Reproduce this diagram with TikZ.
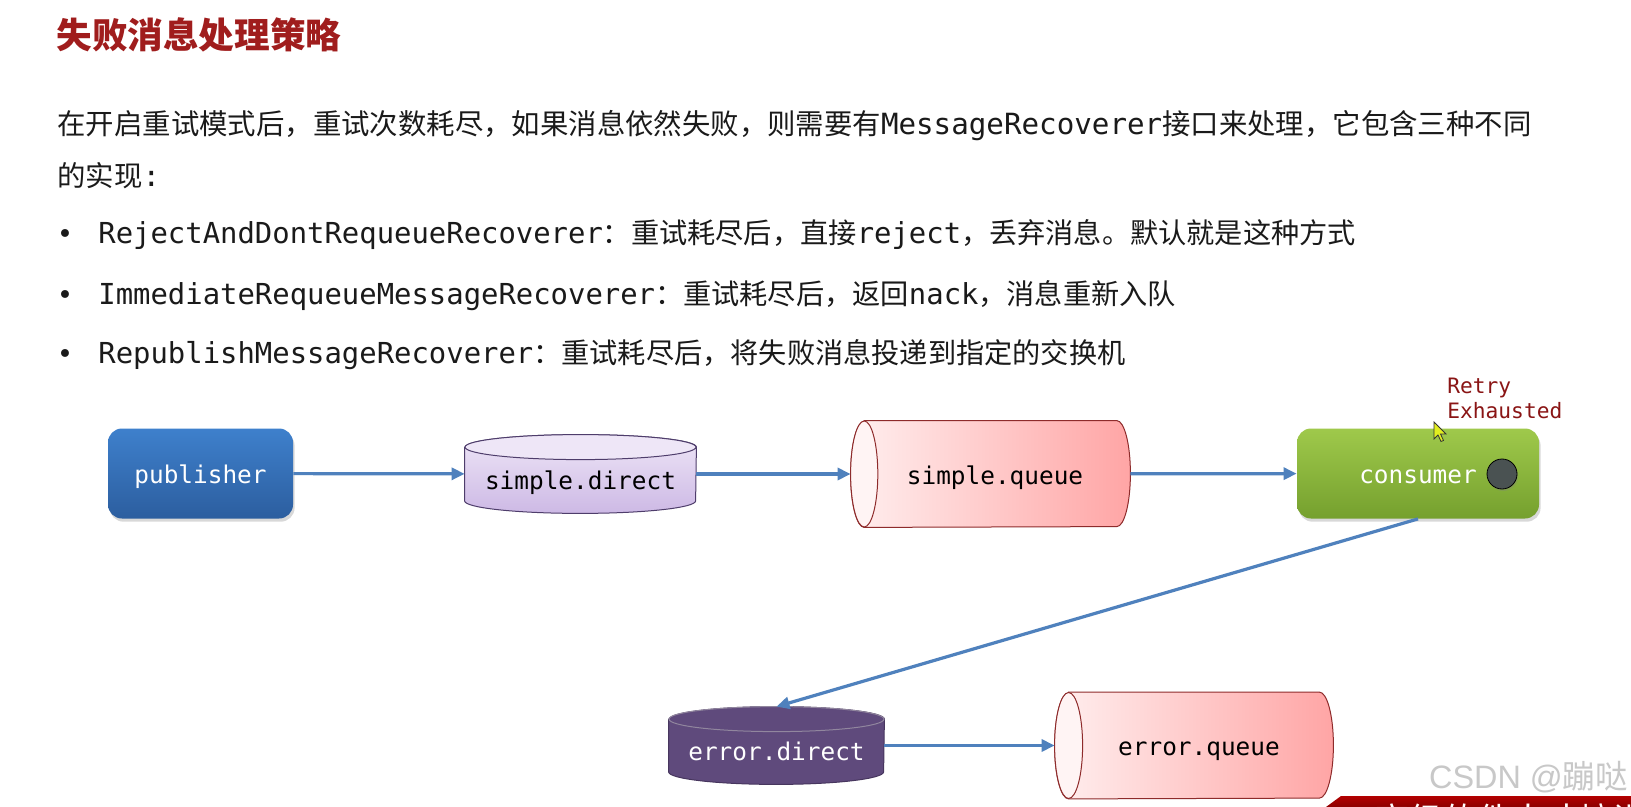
\documentclass[tikz,border=0pt]{standalone}
\usepackage{fontspec}
\setmainfont{Noto Sans CJK SC}
\setmonofont{DejaVu Sans Mono}
\newfontfamily\markfont{Liberation Sans}
\newfontfamily\dotfont{DejaVu Sans}
\usetikzlibrary{arrows.meta,shadows,backgrounds}

\definecolor{titlered}{HTML}{A01D1D}
\definecolor{retryred}{HTML}{8A1515}
\definecolor{bodytext}{HTML}{1A1A1A}
\definecolor{flowblue}{HTML}{4F81BD}
\definecolor{pubtop}{HTML}{3E80CC}
\definecolor{pubbot}{HTML}{2C5E9F}
\definecolor{constop}{HTML}{9FC94B}
\definecolor{consbot}{HTML}{75A02E}
\definecolor{dotgray}{HTML}{4A5252}
\definecolor{dirtop}{HTML}{EEE6F7}
\definecolor{dirbot}{HTML}{CDB9E5}
\definecolor{dirline}{HTML}{4E3D6B}
\definecolor{quel}{HTML}{FFEFEF}
\definecolor{quer}{HTML}{FFA5A5}
\definecolor{queface}{HTML}{FFF4F4}
\definecolor{queline}{HTML}{8E2B2B}
\definecolor{errfill}{HTML}{5F4A7C}
\definecolor{errline}{HTML}{47365E}
\definecolor{markgray}{HTML}{C8C8C8}
\definecolor{bannertop}{HTML}{B30000}
\definecolor{bannerbot}{HTML}{8C0000}
\definecolor{cursoryellow}{HTML}{E2EE20}

\newcommand\code[2][14.6pt]{{\ttfamily\fontsize{#1}{16pt}\selectfont #2}}

\begin{document}
\begin{tikzpicture}[x=0.5pt, y=0.5pt,
    flow/.style={draw=flowblue, line width=1.6pt, -{Triangle[length=6.5pt,width=6pt]}},
    box/.style={rounded corners=7pt, minimum width=92.5pt, minimum height=45pt,
      inner sep=0pt, text=white, font=\ttfamily\fontsize{12.2pt}{14pt}\selectfont,
      text height=10.3pt, text depth=0pt,
      drop shadow={opacity=0.3, shadow xshift=0.8pt, shadow yshift=-1.6pt}},
    tank/.style={inner sep=0pt, font=\ttfamily\fontsize{12.2pt}{14pt}\selectfont,
      text height=10.3pt, text depth=0pt},
    line/.style={anchor=base west, inner sep=0pt, text=bodytext,
      font=\fontsize{14.2pt}{17pt}\selectfont},
    item/.style={line, font=\fontsize{14.1pt}{17pt}\selectfont},
    bullet/.style={anchor=base, inner sep=0pt, text=bodytext,
      font=\dotfont\fontsize{13.5pt}{16pt}\selectfont},
  ]
  \useasboundingbox (0,0) rectangle (1631,-807);

  % heading and text
  \node (title) [anchor=base west, inner sep=0pt, text=titlered,
    font=\bfseries\fontsize{17.8pt}{20pt}\selectfont] at (56,-49) {失败消息处理策略};
  \node (intro) [line] at (57,-134.5)
    {在开启重试模式后，重试次数耗尽，如果消息依然失败，则需要有\code{MessageRecoverer}接口来处理，它包含三种不同};
  \node (intro2) [line] at (57,-186.5) {的实现\code{:}};

  \node (dot1) [bullet] at (65,-244) {•};
  \node (dot2) [bullet] at (65,-305) {•};
  \node (dot3) [bullet] at (65,-364) {•};
  \node (item1) [item] at (98,-244)
    {\code[14.45pt]{RejectAndDontRequeueRecoverer}：重试耗尽后，直接\code[14.45pt]{reject}，丢弃消息。默认就是这种方式};
  \node (item2) [item] at (98,-305)
    {\code[14.45pt]{ImmediateRequeueMessageRecoverer}：重试耗尽后，返回\code[14.45pt]{nack}，消息重新入队};
  \node (item3) [item] at (98,-364)
    {\code[14.45pt]{RepublishMessageRecoverer}：重试耗尽后，将失败消息投递到指定的交换机};

  % diagram
  \node (pub) [box, top color=pubtop, bottom color=pubbot] at (200.5,-473.5) {publisher};
  \node (sdir) [tank, minimum width=115.5pt, minimum height=39pt, text height=15.3pt]
    at (580.5,-474) {simple.direct};
  \node (sque) [tank, minimum width=139.5pt, minimum height=53pt]
    at (990.5,-474) {\hspace*{4.5pt}simple.queue};
  \node (cons) [box, minimum width=121pt, top color=constop, bottom color=consbot]
    at (1418,-473.5) {consumer};
  \node (cdot) [circle, draw=black, fill=dotgray, minimum size=15pt, inner sep=0pt,
    drop shadow={opacity=0.3, shadow xshift=0.6pt, shadow yshift=-1pt}] at (1502,-474) {};
  \node (retry) [anchor=north west, align=left, inner sep=0pt, text=retryred,
    font=\ttfamily\fontsize{10.6pt}{12.5pt}\selectfont] at (1447,-378) {Retry\\Exhausted};
  \node (edir) [tank, minimum width=107.5pt, minimum height=38.5pt, text height=14.8pt,
    text=white] at (776.5,-745.5) {error.direct};
  \node (eque) [tank, minimum width=139pt, minimum height=53pt]
    at (1194,-745.5) {\hspace*{5pt}error.queue};

  \draw [flow] (pub) -- (sdir);
  \draw [flow] (sdir) -- (sque);
  \draw [flow] (sque) -- (cons);
  \draw [flow] (cons.south) -- (edir.north);
  \draw [flow] (edir) -- (eque);

  % mouse pointer
  \filldraw [fill=cursoryellow, draw=black!80, line width=0.4pt]
    (1434,-422) -- ++(0,-17) -- ++(4,4) -- ++(3,-6.5) -- ++(2.5,1)
    -- ++(-3,6.5) -- ++(5.5,0) -- cycle;

  % watermark and banner
  \node (mark) [anchor=base east, inner sep=0pt, text=markgray,
    font=\markfont\fontsize{16.2pt}{18pt}\selectfont] at (1628,-788)
    {CSDN @{\normalfont 蹦哒}};
  \shade [top color=bannertop, bottom color=bannerbot]
    (1326,-807) -- (1341,-796) -- (1640,-796) -- (1640,-807) -- cycle;
  \node (banner) [anchor=base west, inner sep=0pt, text=white,
    font=\fontsize{17pt}{20pt}\selectfont] at (1375,-832) {高级软件人才培训专家};

  \begin{scope}[on background layer]
    \fill [white] (0,0) rectangle (1631,-807);
    % simple.direct
    \shadedraw [top color=dirtop, bottom color=dirbot, draw=dirline, line width=0.5pt]
      ([yshift=-6.25pt]sdir.north west) -- ([yshift=6.25pt]sdir.south west)
      arc [start angle=180, end angle=360, x radius=57.75pt, y radius=6.25pt]
      -- ([yshift=-6.25pt]sdir.north east)
      arc [start angle=0, end angle=180, x radius=57.75pt, y radius=6.25pt] -- cycle;
    \draw [dirline, line width=0.5pt, fill=dirtop]
      ([yshift=-6.25pt]sdir.north) ellipse [x radius=57.75pt, y radius=6.25pt];
    % simple.queue
    \shadedraw [left color=quel, right color=quer, draw=queline, line width=0.5pt]
      ([xshift=6.8pt]sque.north west) -- ([xshift=-6.8pt]sque.north east)
      arc [start angle=90, end angle=-90, x radius=6.8pt, y radius=26.5pt]
      -- ([xshift=6.8pt]sque.south west)
      arc [start angle=270, end angle=90, x radius=6.8pt, y radius=26.5pt] -- cycle;
    \draw [queline, line width=0.5pt, fill=queface]
      ([xshift=6.8pt]sque.west) ellipse [x radius=6.8pt, y radius=26.5pt];
    % error.direct
    \filldraw [fill=errfill, draw=errline, line width=0.5pt]
      ([yshift=-6.25pt]edir.north west) -- ([yshift=6.25pt]edir.south west)
      arc [start angle=180, end angle=360, x radius=53.75pt, y radius=6.25pt]
      -- ([yshift=-6.25pt]edir.north east)
      arc [start angle=0, end angle=180, x radius=53.75pt, y radius=6.25pt] -- cycle;
    \draw [errline!60!white, line width=0.5pt, fill=errfill]
      ([yshift=-6.25pt]edir.north) ellipse [x radius=53.75pt, y radius=6.25pt];
    % error.queue
    \shadedraw [left color=quel, right color=quer, draw=queline, line width=0.5pt]
      ([xshift=7pt]eque.north west) -- ([xshift=-7pt]eque.north east)
      arc [start angle=90, end angle=-90, x radius=7pt, y radius=26.5pt]
      -- ([xshift=7pt]eque.south west)
      arc [start angle=270, end angle=90, x radius=7pt, y radius=26.5pt] -- cycle;
    \draw [queline, line width=0.5pt, fill=queface]
      ([xshift=7pt]eque.west) ellipse [x radius=7pt, y radius=26.5pt];
  \end{scope}
\end{tikzpicture}
\end{document}
